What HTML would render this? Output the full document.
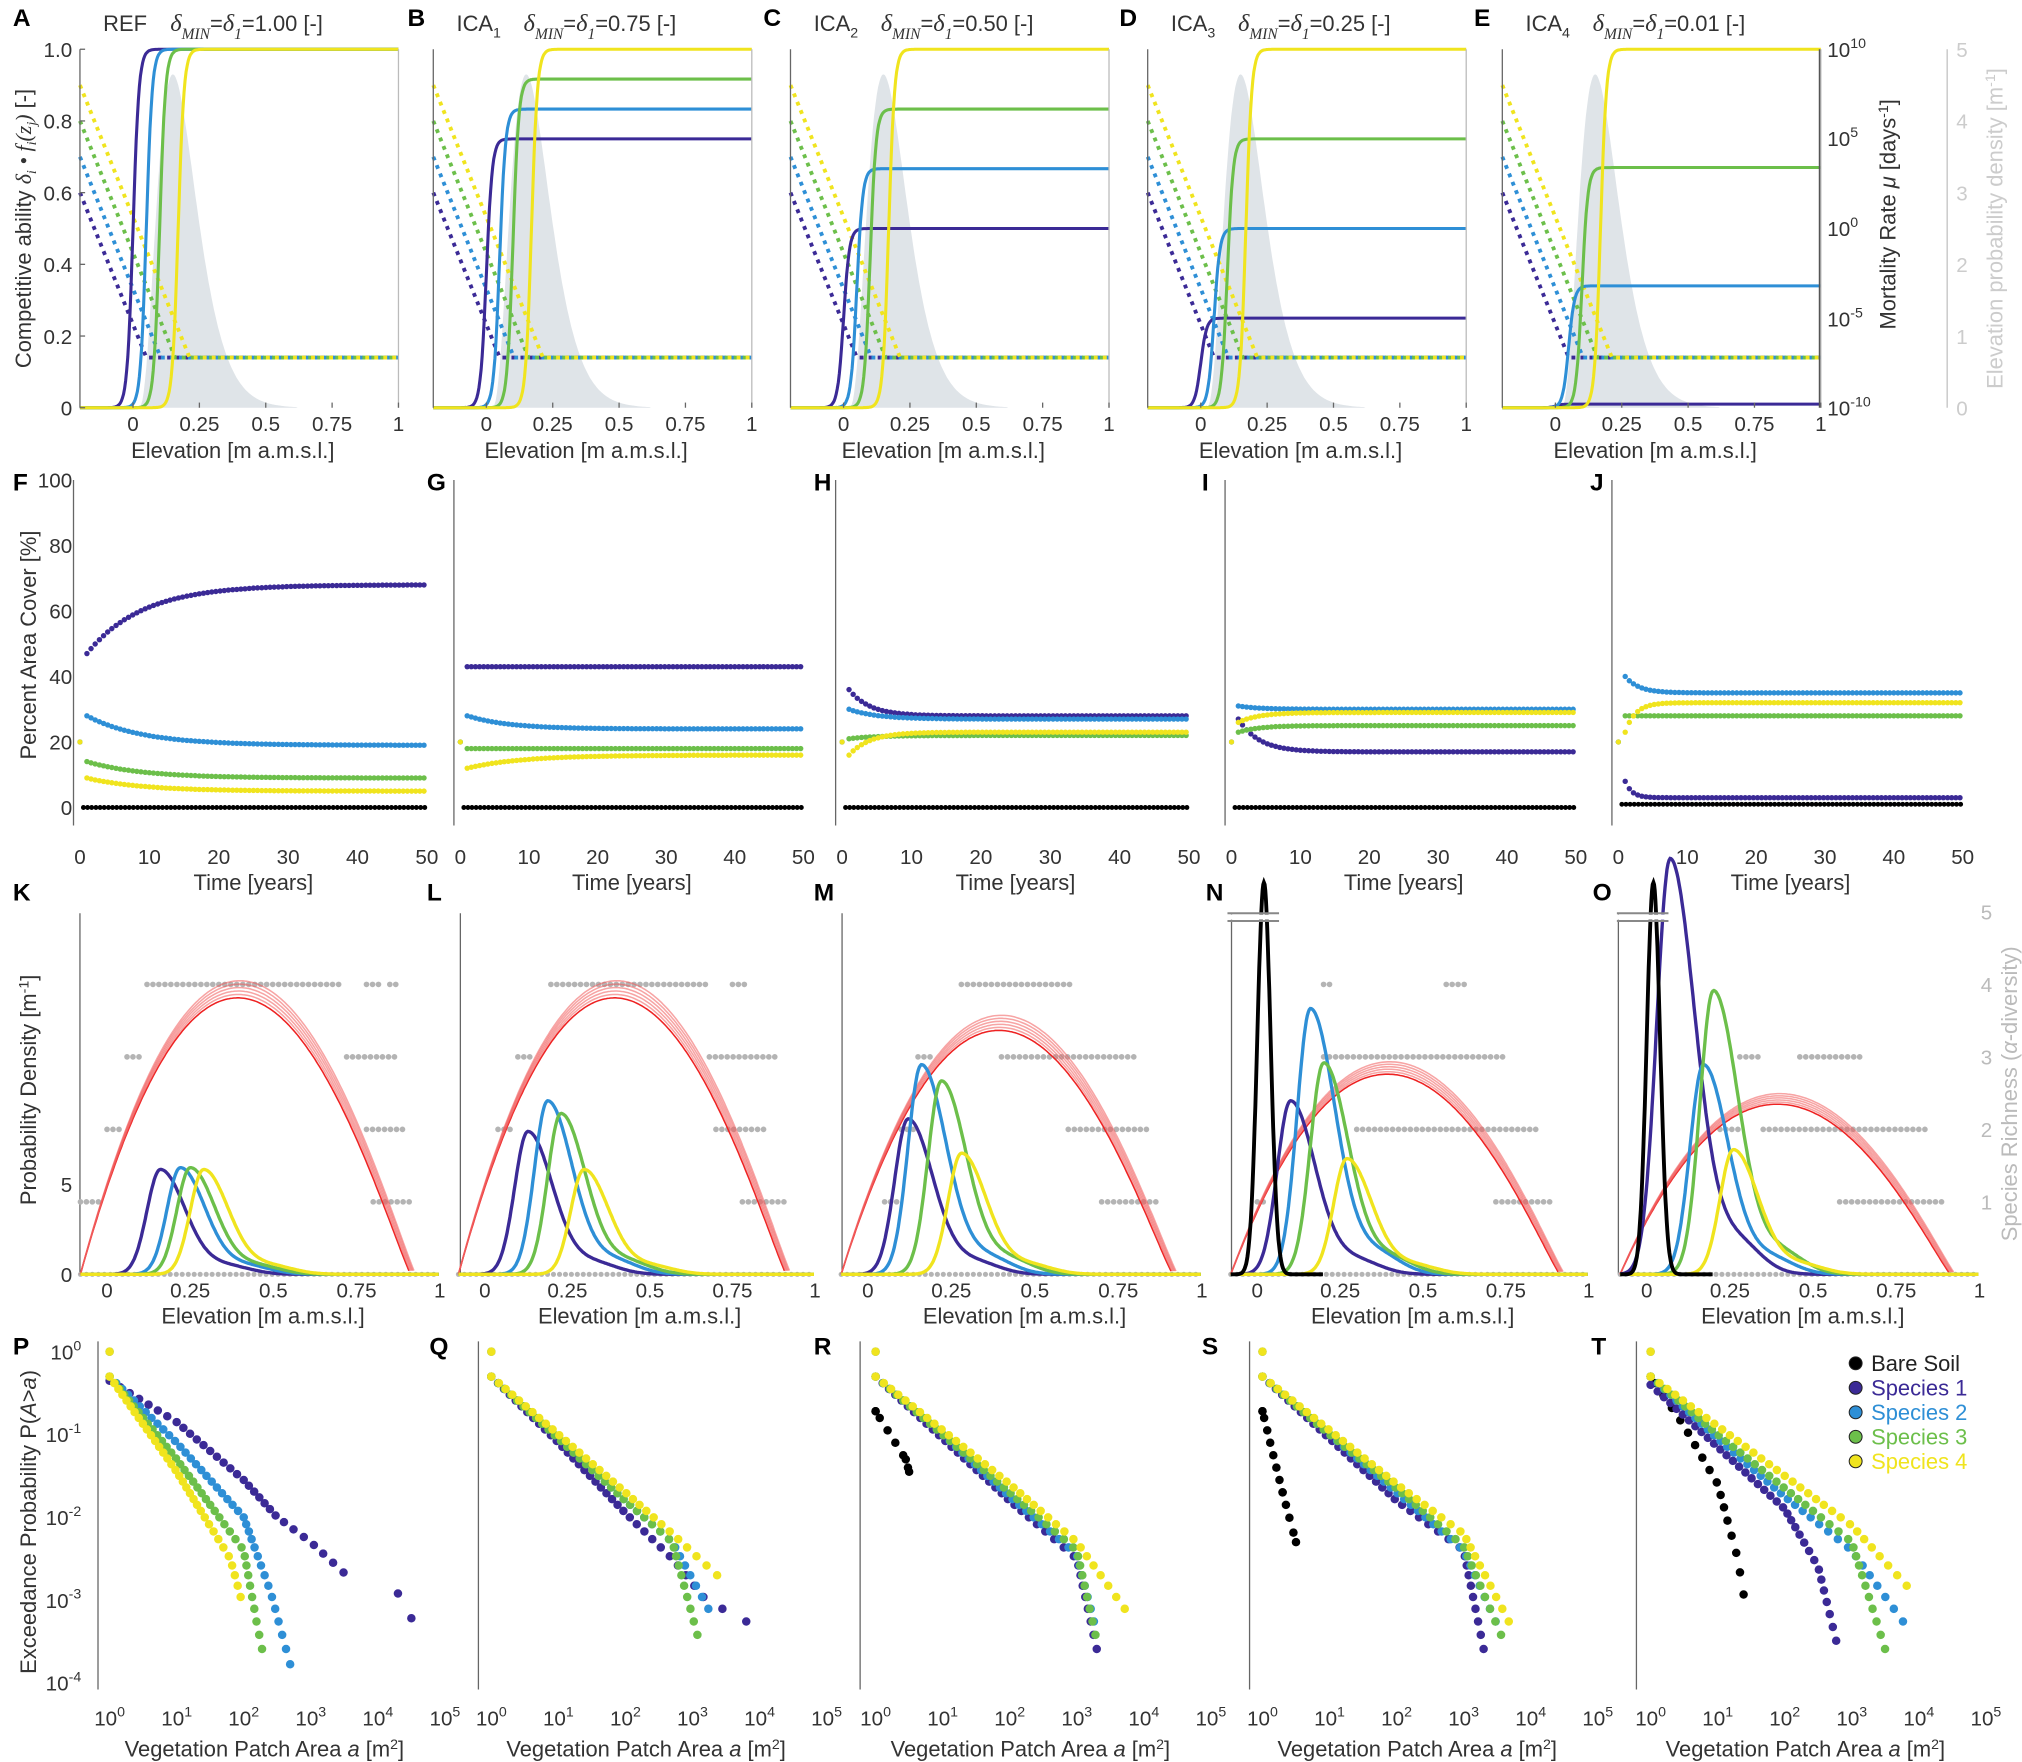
<!DOCTYPE html>
<html><head><meta charset="utf-8">
<style>html,body{margin:0;padding:0;background:#fff}svg{display:block}</style>
</head><body>
<svg id="s" xmlns="http://www.w3.org/2000/svg" width="2022" height="1762" viewBox="0 0 1568 1366" font-family="Liberation Sans, DejaVu Sans, sans-serif"></svg>
<script>
const C={p:'#3b2a96',b:'#2e8fd6',g:'#6cbf4a',y:'#f0e41e',k:'#000',r:'#ee3a3a',gr:'#b4b4b4'};
let o='';
function T(x,y,t,sz,anc,extra){o+=`<text x="${x}" y="${y}" font-size="${sz||16}" text-anchor="${anc||'middle'}" fill="#333" ${extra||''}>${t}</text>`;}
function L(x1,y1,x2,y2,c,w,extra){o+=`<line x1="${x1}" y1="${y1}" x2="${x2}" y2="${y2}" stroke="${c||'#555'}" stroke-width="${w||1}" ${extra||''}/>`;}
function P(pts,c,w,extra){o+=`<polyline fill="none" stroke="${c}" stroke-width="${w||2}" points="${pts.map(p=>p[0].toFixed(1)+','+p[1].toFixed(1)).join(' ')}" ${extra||''}/>`;}
function D(x,y,c,r){o+=`<circle cx="${x.toFixed(1)}" cy="${y.toFixed(1)}" r="${r||2.3}" fill="${c}"/>`;}
function B(x,y,t){o+=`<text x="${x}" y="${y}" font-size="19" font-weight="bold" fill="#000">${t}</text>`;}
const cols=[C.p,C.b,C.g,C.y];
// ROW 1
const r1=[[62,'REF','1.00',[1,1,1,1]],[336,'ICA<tspan font-size="11" dy="5">1</tspan><tspan dy="-5"></tspan>','0.75',[.75,.833,.917,1]],[613,'ICA<tspan font-size="11" dy="5">2</tspan><tspan dy="-5"></tspan>','0.50',[.5,.667,.833,1]],[890,'ICA<tspan font-size="11" dy="5">3</tspan><tspan dy="-5"></tspan>','0.25',[.25,.5,.75,1]],[1165,'ICA<tspan font-size="11" dy="5">4</tspan><tspan dy="-5"></tspan>','0.01',[.01,.34,.67,1]]];
const letters1=['A','B','C','D','E'],lx1=[10,316,592,868,1143];
r1.forEach((pn,i)=>{
 const x0=pn[0],W=247,y0=316,H=278;
 const X=e=>x0+(e+0.2)/1.2*W, Y=v=>y0-v*H;
 B(lx1[i],20,letters1[i]);
 o+=`<text x="${x0+18}" y="24" font-size="17" fill="#333">${pn[1]}</text>`;
 o+=`<text x="${x0+70}" y="24" font-size="19" fill="#333" font-family="Liberation Serif, serif" font-style="italic">δ<tspan font-size="12" dy="6">MIN</tspan><tspan dy="-6" font-style="normal" font-family="Liberation Sans, sans-serif" font-size="17">=</tspan>δ<tspan font-size="12" dy="6">1</tspan><tspan dy="-6" font-style="normal" font-family="Liberation Sans, sans-serif" font-size="17">=${pn[2]} [-]</tspan></text>`;
 let dp=[];for(let e=0.02;e<=0.62;e+=0.005){let t=e-0.02;dp.push([X(e),Y(0.93*Math.pow(t/0.13,3)*Math.exp(3-3*t/0.13))]);}
 o+=`<polygon fill="#dfe4e8" points="${X(0.02)},${y0} ${dp.map(p=>p[0].toFixed(1)+','+p[1].toFixed(1)).join(' ')} ${X(0.62)},${y0}"/>`;
 const v0=[.6,.7,.8,.9];
 cols.forEach((c,k)=>{const ee=-0.2+(v0[k]-0.14)/1.84;P([[X(-0.2),Y(v0[k])],[X(ee),Y(0.14)],[X(1),Y(0.14)]],c,3,'stroke-dasharray="3,4"');});
 const cen=[0.0,0.05,0.1,0.17];
 cols.forEach((c,k)=>{let pts=[];for(let e=-0.2;e<=1.0001;e+=0.004){pts.push([X(e),Y(pn[3][k]/(1+Math.exp(-90*(e-cen[k]))))]);}P(pts,c,2.4);});
 L(x0,38,x0,y0,'#666',1);L(x0+W,38,x0+W,y0,'#bbb',1);
 [0,.25,.5,.75,1].forEach(v=>{T(X(v),334,String(v),16);L(X(v),y0,X(v),y0-4,'#666');});
 T(x0+W/2-5,355,'Elevation [m a.m.s.l.]',17);
 if(i==0){[0,.2,.4,.6,.8,1].forEach(v=>{T(x0-6,Y(v)+6,v==0?'0':v.toFixed(1),16,'end');L(x0,Y(v),x0+4,Y(v),'#666');});}
});
o+=`<text transform="translate(24,177) rotate(-90)" font-size="17" text-anchor="middle" fill="#333">Competitive ability <tspan font-family="Liberation Serif, serif" font-style="italic">δ<tspan font-size="11" dy="4">i</tspan><tspan dy="-4"> • f</tspan><tspan font-size="11" dy="4">i</tspan><tspan dy="-4">(z</tspan><tspan font-size="11" dy="4">j</tspan><tspan dy="-4">)</tspan></tspan> [-]</text>`;
L(1411,38,1411,316,'#555',1.2);
[[10,38],[5,107],[0,177],[-5,247],[-10,316]].forEach(a=>{o+=`<text x="1417" y="${a[1]+6}" font-size="16" fill="#333">10<tspan font-size="11" dy="-7">${a[0]}</tspan></text>`;});
o+=`<text transform="translate(1470,166) rotate(-90)" font-size="17" text-anchor="middle" fill="#333">Mortality Rate <tspan font-style="italic">μ</tspan> [days<tspan font-size="11" dy="-6">-1</tspan><tspan dy="6">]</tspan></text>`;
L(1510,38,1510,316,'#ccc',1.2);
[0,1,2,3,4,5].forEach(v=>{o+=`<text x="1517" y="${316-v*55.6+6}" font-size="16" fill="#ccc">${v}</text>`;});
o+=`<text transform="translate(1553,177) rotate(-90)" font-size="17" text-anchor="middle" fill="#ccc">Elevation probability density [m<tspan font-size="11" dy="-6">-1</tspan><tspan dy="6">]</tspan></text>`;

// ROW 2
const r2=[[62,331,'F',10],[357,623,'G',331],[653,922,'H',631],[955,1222,'I',932],[1255,1522,'J',1233]];
const s2=[
 [[47,68,8],[28,19,8],[14,9,8],[9,5,8],0],
 [[43,43,5],[28,24,6],[18,18,5],[12,16,8],0],
 [[36,28,3],[30,27,4],[21,22,4],[16,23,3],0],
 [[27,17,3],[31,30,3],[23,25,3],[26,29,3],0],
 [[8,3,1],[40,35,2],[28,28,2],[23,32,1.5],1]];
r2.forEach((pn,i)=>{
 const x0=pn[0],x1=pn[1],y0=626,H=254;
 const X=t=>x0+(x1-x0)*t/50, Y=v=>y0-v*H/100;
 B(pn[3],380,pn[2]);
 L(x0-5,372,x0-5,640,'#666',1);
 [0,10,20,30,40,50].forEach(t=>T(X(t),670,String(t),16));
 T((x0+x1)/2,690,'Time [years]',17);
 if(i==0)[0,20,40,60,80,100].forEach(v=>{T(x0-6,Y(v)+6,String(v),16,'end');});
 for(let t=0.5;t<=50;t+=0.6)D(X(t),Y(s2[i][4]),'#000',1.9);
 s2[i].slice(0,4).forEach((s,k)=>{D(X(0),Y(20),cols[k],2);for(let t=1;t<=50;t+=0.6){let v=s[1]+(s[0]-s[1])*Math.exp(-(t-1)/s[2]);D(X(t),Y(v),cols[k],2.1);}});
});
o+=`<text transform="translate(28,500) rotate(-90)" font-size="17" text-anchor="middle" fill="#333">Percent Area Cover [%]</text>`;

// ROW 3
const r3=[[62,83,341,'K',10,[[.16,5.8],[.22,5.9],[.25,5.9],[.29,5.8]],null,767],
 [357,376,632,'L',331,[[.13,7.9],[.19,9.6],[.23,8.9],[.3,5.8]],null,767],
 [653,673,932,'M',631,[[.12,8.6],[.16,11.6],[.22,10.7],[.28,6.7]],null,793],
 [955,975,1232,'N',935,[[.1,9.6],[.16,14.7],[.2,11.7],[.27,6.4]],[.02,21.7],828],
 [1255,1277,1535,'O',1235,[[.07,23],[.17,11.6],[.2,15.7],[.26,6.9]],[.02,21.7],852]];
const dots=[
 [[4,[[.12,.7],[.78,.82],[.85,.87]]],[3,[[.06,.11],[.72,.88]]],[2,[[0,.05],[.78,.9]]],[1,[[-.08,-.02],[.8,.92]]]],
 [[4,[[.2,.68],[.75,.8]]],[3,[[.1,.14],[.68,.88]]],[2,[[.04,.09],[.7,.86]]],[1,[[.78,.92]]]],
 [[4,[[.28,.62]]],[3,[[.15,.2],[.4,.8]]],[2,[[.1,.14],[.6,.85]]],[1,[[.05,.1],[.7,.88]]]],
 [[4,[[.2,.23],[.57,.63]]],[3,[[.2,.75]]],[2,[[.3,.85]]],[1,[[.0,.03],[.72,.9]]]],
 [[3,[[.28,.34],[.46,.65]]],[2,[[.22,.28],[.35,.85]]],[1,[[.58,.9]]]]];
r3.forEach((pn,i)=>{
 const ax=pn[0],xa=pn[1],xb=pn[2],y0=988,u=14;
 const X=e=>xa+(xb-xa)*e, Y=v=>y0-v*u;
 B(pn[4],698,pn[3]);
 L(ax,708,ax,988,'#666',1);
 [0,.25,.5,.75,1].forEach(v=>T(X(v),1006,String(v),16));
 T((xa+xb)/2-8,1026,'Elevation [m a.m.s.l.]',17);
 if(i==0){T(ax-6,Y(0)+6,'0',16,'end');T(ax-6,Y(5)+6,'5',16,'end');}
 for(let e=-0.08;e<=1.0;e+=0.018)D(X(e),y0,C.gr,2);
 dots[i].forEach(lv=>{const yy=y0-lv[0]*56.2;lv[1].forEach(r=>{for(let e=r[0];e<=r[1];e+=0.018)D(X(e),yy,C.gr,2.2);});});
 for(let j=0;j<6;j++){let pts=[];const h=(y0-pn[7])*(1+(j-2.5)*0.012),sh=(j-2.5)*0.003;for(let e=-0.08;e<=0.92;e+=0.005){let t=(e+0.08)/1.0;let f=t*Math.pow(1-t,1.1);let fm=0.476*Math.pow(0.524,1.1);pts.push([X(e+sh*(t)),y0-h*f/fm]);}P(pts,j==0?'#ee2222':'rgba(240,90,90,0.55)',1.2);}
 const sp=pn[5];
 const dens=(c,h,e)=>{let s=e<c?0.04:0.075;let v=h*Math.exp(-0.5*Math.pow((e-c)/s,2));if(e>c)v+=h*0.08*Math.exp(-Math.pow((e-c-0.2)/0.1,2));return v;};
 sp.forEach((s,k)=>{let pts=[];for(let e=-0.08;e<=1.0;e+=0.003)pts.push([X(e),Y(dens(s[0],s[1],e))]);P(pts,cols[k],2.6);});
 if(pn[6]){let pts=[];for(let e=-0.08;e<=0.2;e+=0.002){let s=0.02;pts.push([X(e),Y(pn[6][1]*Math.exp(-0.5*Math.pow((e-pn[6][0])/s,2)))]);}P(pts,'#000',3);
   const bx=X(-0.02);L(bx-18,708,bx+22,708,'#888',1.5);L(bx-18,714,bx+22,714,'#888',1.5);o+=`<rect x="${bx-18}" y="709" width="40" height="4" fill="#fff"/>`;}
});
o+=`<text transform="translate(28,845) rotate(-90)" font-size="17" text-anchor="middle" fill="#333">Probability Density [m<tspan font-size="11" dy="-6">-1</tspan><tspan dy="6">]</tspan></text>`;
[1,2,3,4,5].forEach(v=>{o+=`<text x="1536" y="${988-v*56.2+6}" font-size="16" fill="#bbb">${v}</text>`;});
o+=`<text transform="translate(1564,848) rotate(-90)" font-size="17" text-anchor="middle" fill="#bbb">Species Richness (<tspan font-style="italic">α</tspan>-diversity)</text>`;

// ROW 4
const r4=[[62,85,'P',10],[357,381,'Q',333],[653,679,'R',631],[955,979,'S',932],[1255,1280,'T',1234]];
const s4=[
 {p:[[0,-.35],[.3,-.5],[1,-.85],[2,-1.55],[2.5,-2],[3,-2.3],[3.6,-2.75]],pe:[[4.3,-2.92],[4.5,-3.22]],b:[[0,-.3],[1,-1.1],[2,-2],[2.4,-2.9],[2.7,-3.8]],g:[[0,-.3],[1,-1.3],[2,-2.4],[2.2,-3.3],[2.3,-3.7]],y:[[0,-.3],[1,-1.45],[1.8,-2.5],[2,-3.1]]},
 {p:[[0,-.3],[1,-1.1],[2,-1.95],[2.7,-2.5],[3.2,-3],[3.9,-3.3]],b:[[0,-.3],[1,-1.05],[2,-1.8],[2.7,-2.3],[3.3,-3.2]],g:[[0,-.3],[1,-1.05],[2,-1.8],[2.7,-2.3],[3.1,-3.5]],y:[[0,-.3],[1,-1.0],[2,-1.7],[2.7,-2.2],[3.5,-2.8]]},
 {k:[[0,-.72],[.45,-1.3],[.5,-1.45]],p:[[0,-.3],[1,-1.05],[2,-1.8],[3,-2.5],[3.3,-3.6]],b:[[0,-.3],[1,-1.0],[2,-1.75],[3,-2.45],[3.3,-3.4]],g:[[0,-.3],[1,-1.0],[2,-1.7],[3,-2.4],[3.3,-3.5]],y:[[0,-.3],[1,-.95],[2,-1.6],[3,-2.3],[3.8,-3.2]]},
 {k:[[0,-.72],[.3,-1.7],[.5,-2.3]],p:[[0,-.3],[1,-1.05],[2,-1.8],[3,-2.4],[3.3,-3.6]],b:[[0,-.3],[1,-1.0],[2,-1.7],[3,-2.4],[3.5,-3.3]],g:[[0,-.3],[1,-1.0],[2,-1.65],[3,-2.35],[3.6,-3.5]],y:[[0,-.3],[1,-.95],[2,-1.6],[3,-2.2],[3.7,-3.3]]},
 {k:[[0,-.3],[.5,-.9],[1,-1.6],[1.3,-2.5],[1.4,-3.0]],p:[[0,-.4],[1,-1.15],[2,-1.9],[2.5,-2.6],[2.8,-3.6]],b:[[0,-.3],[1,-1.05],[2,-1.75],[3,-2.4],[3.8,-3.3]],g:[[0,-.3],[1,-1.0],[2,-1.65],[3,-2.3],[3.5,-3.6]],y:[[0,-.3],[1,-.9],[2,-1.5],[3,-2.1],[3.9,-2.9]]}];
function interp(k,lp){for(let i=0;i<k.length-1;i++){if(lp<=k[i][1]&&lp>=k[i+1][1]){let f=(lp-k[i][1])/(k[i+1][1]-k[i][1]);return k[i][0]+f*(k[i+1][0]-k[i][0]);}}return null;}
r4.forEach((pn,i)=>{
 const ax=pn[0],xa=pn[1],dx=52,y0=1048,dy=64.2;
 const X=l=>xa+l*dx, Y=l=>y0-l*dy;
 B(pn[3],1050,pn[2]);
 L(ax+14,1040,ax+14,1310,'#666',1);
 for(let d=0;d<=5;d++){o+=`<text x="${X(d)}" y="1338" font-size="16" text-anchor="middle" fill="#333">10<tspan font-size="11" dy="-7">${d}</tspan></text>`;}
 o+=`<text x="${xa+120}" y="1362" font-size="17" text-anchor="middle" fill="#333">Vegetation Patch Area <tspan font-style="italic">a</tspan> [m<tspan font-size="11" dy="-6">2</tspan><tspan dy="6">]</tspan></text>`;
 if(i==0){for(let d=0;d<=4;d++){o+=`<text x="${ax+1}" y="${Y(-d)+6}" font-size="16" text-anchor="end" fill="#333">10<tspan font-size="11" dy="-7">${d==0?'0':'-'+d}</tspan></text>`;}}
 const s=s4[i];
 const order=[['k','#000'],['p',C.p],['b',C.b],['g',C.g],['y',C.y]];
 order.forEach(([key,c])=>{const k=s[key];if(!k)return;
  const lo=k[k.length-1][1];
  if(key=='y'||key=='b')D(X(0),Y(0),c,3.3);
  D(X(0),Y(k[0][1]),c,3.3);
  let step=key=='k'?0.15:0.07;
  for(let lp=k[0][1]-0.08;lp>=lo;lp-=step*(1+Math.max(0,(-lp-1.8))*0.9)){let la=interp(k,lp);if(la!==null)D(X(la),Y(lp),c,3.3);}
  if(key=='k'&&(i==2||i==3))k.forEach(q=>D(X(q[0]),Y(q[1]),c,3.3));
  if(key=='p'&&s.pe)s.pe.forEach(q=>D(X(q[0]),Y(q[1]),c,3.3));
 });
});
o+=`<text transform="translate(28,1180) rotate(-90)" font-size="17" text-anchor="middle" fill="#333">Exceedance Probability P(<tspan font-style="italic">A</tspan>&gt;<tspan font-style="italic">a</tspan>)</text>`;
[['Bare Soil','#000','#222'],['Species 1',C.p,C.p],['Species 2',C.b,C.b],['Species 3',C.g,C.g],['Species 4',C.y,C.y]].forEach((l,j)=>{const y=1057+j*19;o+=`<circle cx="1439" cy="${y}" r="5" fill="${l[1]}" stroke="#222" stroke-width="0.8"/><text x="1451" y="${y+6}" font-size="17" fill="${l[2]}">${l[0]}</text>`;});
document.getElementById('s').innerHTML=o;
</script>
</body></html>
